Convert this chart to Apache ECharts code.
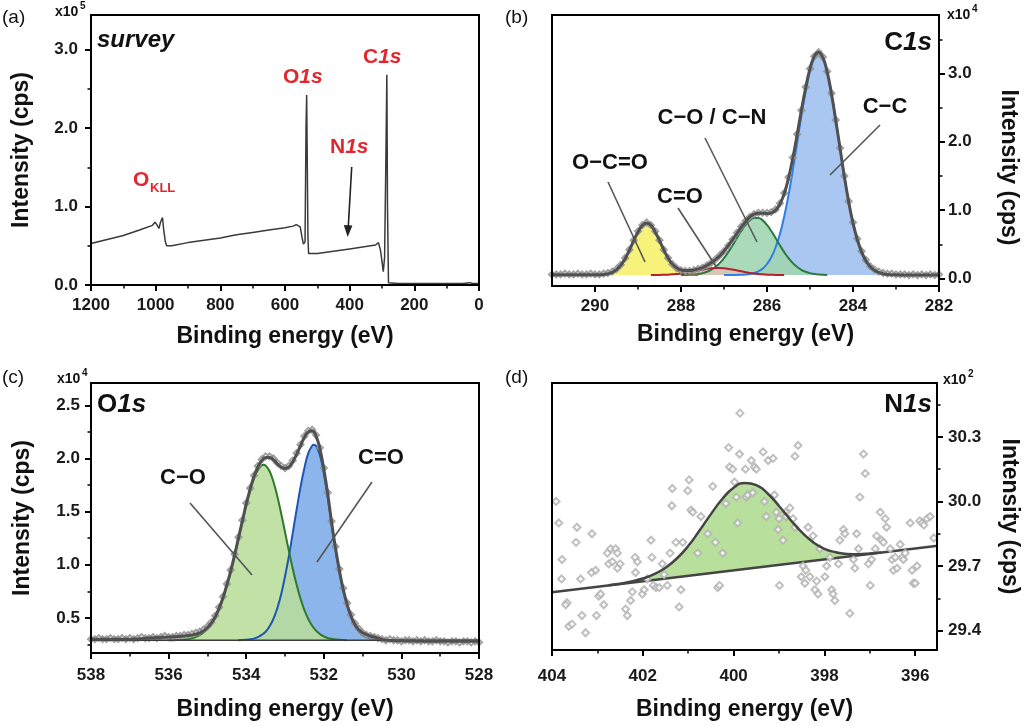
<!DOCTYPE html>
<html>
<head>
<meta charset="utf-8">
<script src="https://cdn.jsdelivr.net/npm/echarts@6/dist/echarts.min.js"></script>
<style>
  html, body { margin: 0; padding: 0; background: #fff; }
  #chart { width: 1024px; height: 726px; }
</style>
</head>
<body>
<div id="chart"></div>
<script>
// ---- (a) survey spectrum, intensity in 1e5 cps
var surveySpectrum = [
  [1200,0.53],[1150,0.58],[1100,0.63],[1050,0.70],[1010,0.76],[1002,0.80],[995,0.76],[990,0.72],
  [985,0.80],[979,0.86],[975,0.70],[970,0.55],[966,0.50],[950,0.50],[900,0.54],[850,0.57],
  [800,0.60],[750,0.64],[700,0.67],[650,0.70],[600,0.73],[575,0.75],[565,0.77],[559,0.79],
  [553,0.74],[547,0.60],[543,0.52],[538,0.55],[535,2.0],[533,2.42],[531,1.5],[529,0.6],
  [527,0.40],[500,0.40],[450,0.43],[400,0.46],[350,0.49],[320,0.51],[311,0.54],[305,0.45],
  [300,0.30],[296,0.17],[292,0.35],[288,1.6],[285,2.68],[283,1.0],[280,0.03],[250,0.02],
  [200,0.02],[150,0.02],[100,0.02],[50,0.02],[28,0.03],[20,0.02],[0,0.02]
];
var surveyEnergyTicks = [0, 200, 400, 600, 800, 1000, 1200];
var surveyEnergyMinor = [100, 300, 500, 700, 900, 1100];
var surveyIntensityTicks = [0, 1, 2, 3];
var surveyIntensityMinor = [0.5, 1.5, 2.5];

// ---- (b) C1s, intensity in 1e4 cps
var c1sRaw = [
  [282.0,0.06],[282.1,0.05],[282.2,0.06],[282.3,0.05],[282.4,0.06],[282.5,0.05],[282.6,0.06],[282.7,0.05],
  [282.8,0.06],[282.9,0.06],[283.0,0.06],[283.1,0.07],[283.2,0.07],[283.3,0.08],[283.4,0.10],[283.5,0.13],
  [283.6,0.18],[283.7,0.27],[283.8,0.40],[283.9,0.58],[284.0,0.82],[284.1,1.13],[284.2,1.50],[284.3,1.91],
  [284.4,2.32],[284.5,2.71],[284.6,3.03],[284.7,3.24],[284.8,3.31],[284.9,3.25],[285.0,3.07],[285.1,2.80],
  [285.2,2.46],[285.3,2.11],[285.4,1.77],[285.5,1.48],[285.6,1.25],[285.7,1.10],[285.8,1.01],[285.9,0.97],
  [286.0,0.96],[286.1,0.96],[286.2,0.96],[286.3,0.94],[286.4,0.90],[286.5,0.84],[286.6,0.76],[286.7,0.67],
  [286.8,0.57],[286.9,0.48],[287.0,0.40],[287.1,0.34],[287.2,0.28],[287.3,0.23],[287.4,0.19],[287.5,0.16],
  [287.6,0.14],[287.7,0.12],[287.8,0.11],[287.9,0.11],[288.0,0.12],[288.1,0.15],[288.2,0.21],[288.3,0.30],
  [288.4,0.42],[288.5,0.56],[288.6,0.69],[288.7,0.78],[288.8,0.82],[288.9,0.78],[289.0,0.69],[289.1,0.56],
  [289.2,0.42],[289.3,0.30],[289.4,0.20],[289.5,0.14],[289.6,0.10],[289.7,0.08],[289.8,0.07],[289.9,0.06],
  [290.0,0.06],[290.1,0.07],[290.2,0.06],[290.3,0.06],[290.4,0.07],[290.5,0.06],[290.6,0.06],[290.7,0.07],
  [290.8,0.06],[290.9,0.06],[291.0,0.06]
];
var c1sEnvelope = [
  [282.0,0.05],[282.5,0.05],[283.0,0.055],[283.2,0.06],[283.3,0.07],[283.4,0.09],[283.5,0.12],[283.6,0.175],
  [283.7,0.26],[283.8,0.39],[283.9,0.57],[284.0,0.81],[284.1,1.12],[284.2,1.49],[284.3,1.90],[284.4,2.31],
  [284.5,2.70],[284.6,3.02],[284.7,3.23],[284.8,3.31],[284.9,3.25],[285.0,3.07],[285.1,2.79],[285.2,2.46],
  [285.3,2.10],[285.4,1.76],[285.5,1.47],[285.6,1.24],[285.7,1.09],[285.8,1.00],[285.9,0.96],[286.0,0.95],
  [286.1,0.956],[286.2,0.955],[286.3,0.94],[286.4,0.90],[286.5,0.83],[286.6,0.75],[286.7,0.66],[286.8,0.57],
  [286.9,0.48],[287.0,0.40],[287.1,0.33],[287.2,0.275],[287.3,0.23],[287.4,0.19],[287.5,0.16],[287.6,0.14],
  [287.7,0.125],[287.8,0.115],[287.9,0.115],[288.0,0.125],[288.1,0.155],[288.2,0.21],[288.3,0.30],[288.4,0.42],
  [288.5,0.555],[288.6,0.68],[288.7,0.78],[288.8,0.81],[288.9,0.776],[289.0,0.68],[289.1,0.553],[289.2,0.415],
  [289.3,0.29],[289.4,0.195],[289.5,0.13],[289.6,0.09],[289.7,0.07],[289.8,0.058],[290.0,0.055],[290.5,0.055],
  [291.0,0.055]
];
var c1sCC = [
  [283.0,0.05],[283.2,0.06],[283.3,0.07],[283.4,0.09],[283.5,0.12],[283.6,0.175],[283.7,0.26],[283.8,0.39],
  [283.9,0.57],[284.0,0.81],[284.1,1.12],[284.2,1.49],[284.3,1.90],[284.4,2.31],[284.5,2.70],[284.6,3.02],
  [284.7,3.23],[284.8,3.30],[284.9,3.23],[285.0,3.04],[285.1,2.74],[285.2,2.38],[285.3,1.98],[285.4,1.585],
  [285.5,1.22],[285.6,0.907],[285.7,0.651],[285.8,0.455],[285.9,0.311],[286.0,0.212],[286.1,0.146],[286.2,0.105],
  [286.3,0.08],[286.4,0.066],[286.5,0.058],[286.6,0.054],[286.8,0.051],[287.0,0.05]
];
var c1sCOCN = [
  [284.6,0.05],[284.8,0.059],[284.9,0.066],[285.0,0.078],[285.1,0.098],[285.2,0.127],[285.3,0.169],[285.4,0.225],
  [285.5,0.298],[285.6,0.386],[285.7,0.486],[285.8,0.591],[285.9,0.694],[286.0,0.783],[286.1,0.85],[286.2,0.886],
  [286.3,0.886],[286.4,0.85],[286.5,0.783],[286.6,0.694],[286.7,0.591],[286.8,0.486],[286.9,0.386],[287.0,0.298],
  [287.1,0.225],[287.2,0.169],[287.3,0.127],[287.4,0.098],[287.5,0.078],[287.6,0.066],[287.8,0.055],[288.0,0.05]
];
var c1sCeqO = [
  [285.6,0.05],[285.8,0.052],[286.0,0.056],[286.2,0.065],[286.4,0.081],[286.6,0.105],[286.8,0.13],[287.0,0.15],
  [287.1,0.154],[287.2,0.154],[287.3,0.15],[287.5,0.13],[287.7,0.105],[287.9,0.081],[288.1,0.065],[288.3,0.056],
  [288.5,0.052],[288.7,0.05]
];
var c1sOCeqO = [
  [287.6,0.05],[287.8,0.058],[287.9,0.068],[288.0,0.09],[288.1,0.13],[288.2,0.195],[288.3,0.29],[288.4,0.415],
  [288.5,0.553],[288.6,0.682],[288.7,0.776],[288.8,0.81],[288.9,0.776],[289.0,0.682],[289.1,0.553],[289.2,0.415],
  [289.3,0.29],[289.4,0.195],[289.5,0.13],[289.6,0.09],[289.7,0.068],[289.8,0.058],[290.0,0.05]
];
var c1sBackground = 0.05;
var c1sEnergyTicks = [282, 284, 286, 288, 290];
var c1sEnergyMinor = [283, 285, 287, 289];
var c1sIntensityTicks = [0, 1, 2, 3];
var c1sIntensityMinor = [0.5, 1.5, 2.5, 3.5];

// ---- (c) O1s, intensity in 1e4 cps
var o1sRaw = [
  [528.0,0.27],[528.1,0.28],[528.2,0.27],[528.3,0.28],[528.4,0.28],[528.5,0.27],[528.6,0.28],[528.7,0.28],
  [528.8,0.27],[528.9,0.28],[529.0,0.28],[529.1,0.29],[529.2,0.28],[529.3,0.28],[529.4,0.29],[529.5,0.28],
  [529.6,0.29],[529.7,0.28],[529.8,0.29],[529.9,0.29],[530.0,0.28],[530.1,0.29],[530.2,0.29],[530.3,0.30],
  [530.4,0.29],[530.5,0.30],[530.6,0.31],[530.7,0.32],[530.8,0.33],[530.9,0.34],[531.0,0.36],[531.1,0.40],
  [531.2,0.45],[531.3,0.53],[531.4,0.64],[531.5,0.78],[531.6,0.96],[531.7,1.17],[531.8,1.41],[531.9,1.68],
  [532.0,1.91],[532.1,2.10],[532.2,2.22],[532.3,2.27],[532.4,2.26],[532.5,2.21],[532.6,2.13],[532.7,2.05],
  [532.8,1.98],[532.9,1.93],[533.0,1.91],[533.1,1.93],[533.2,1.96],[533.3,2.00],[533.4,2.02],[533.5,2.02],
  [533.6,1.99],[533.7,1.93],[533.8,1.84],[533.9,1.72],[534.0,1.58],[534.1,1.42],[534.2,1.26],[534.3,1.10],
  [534.4,0.95],[534.5,0.82],[534.6,0.70],[534.7,0.60],[534.8,0.52],[534.9,0.46],[535.0,0.42],[535.1,0.39],
  [535.2,0.37],[535.3,0.36],[535.4,0.35],[535.5,0.34],[535.6,0.34],[535.7,0.33],[535.8,0.33],[535.9,0.32],
  [536.0,0.32],[536.1,0.33],[536.2,0.32],[536.3,0.31],[536.4,0.32],[536.5,0.31],[536.6,0.31],[536.7,0.32],
  [536.8,0.31],[536.9,0.30],[537.0,0.31],[537.1,0.30],[537.2,0.31],[537.3,0.30],[537.4,0.30],[537.5,0.31],
  [537.6,0.30],[537.7,0.30],[537.8,0.31],[537.9,0.30],[538.0,0.30]
];
var o1sEnvelope = [
  [528.0,0.28],[529.0,0.28],[530.0,0.285],[530.4,0.29],[530.6,0.31],[530.8,0.33],[531.0,0.36],[531.1,0.39],
  [531.2,0.44],[531.3,0.52],[531.4,0.63],[531.5,0.77],[531.6,0.95],[531.7,1.16],[531.8,1.40],[531.9,1.67],
  [532.0,1.90],[532.1,2.09],[532.2,2.21],[532.3,2.26],[532.4,2.25],[532.5,2.20],[532.6,2.12],[532.7,2.04],
  [532.8,1.97],[532.9,1.92],[533.0,1.906],[533.1,1.92],[533.2,1.95],[533.3,1.99],[533.4,2.01],[533.5,2.01],
  [533.6,1.98],[533.7,1.92],[533.8,1.83],[533.9,1.71],[534.0,1.57],[534.1,1.41],[534.2,1.25],[534.3,1.09],
  [534.4,0.94],[534.5,0.81],[534.6,0.69],[534.7,0.59],[534.8,0.51],[534.9,0.45],[535.0,0.41],[535.1,0.38],
  [535.2,0.36],[535.4,0.34],[535.6,0.33],[536.0,0.32],[536.5,0.31],[537.0,0.30],[538.0,0.30]
];
var o1sCeqO = [
  [530.2,0.29],[530.4,0.29],[530.6,0.295],[530.8,0.31],[531.0,0.34],[531.1,0.38],[531.2,0.43],[531.3,0.51],
  [531.4,0.62],[531.5,0.76],[531.6,0.94],[531.7,1.15],[531.8,1.39],[531.9,1.64],[532.0,1.86],[532.1,2.03],
  [532.2,2.12],[532.25,2.13],[532.3,2.12],[532.4,2.05],[532.5,1.91],[532.6,1.73],[532.7,1.52],[532.8,1.30],
  [532.9,1.08],[533.0,0.89],[533.1,0.72],[533.2,0.59],[533.3,0.49],[533.4,0.42],[533.5,0.37],[533.6,0.34],
  [533.7,0.32],[533.8,0.305],[534.0,0.295],[534.2,0.29]
];
var o1sCO = [
  [531.4,0.29],[531.6,0.294],[531.8,0.303],[531.9,0.311],[532.0,0.326],[532.1,0.348],[532.2,0.38],[532.3,0.426],
  [532.4,0.49],[532.5,0.574],[532.6,0.681],[532.7,0.811],[532.8,0.963],[532.9,1.131],[533.0,1.308],[533.1,1.485],
  [533.2,1.647],[533.3,1.783],[533.4,1.882],[533.5,1.933],[533.55,1.94],[533.6,1.935],[533.7,1.892],[533.8,1.811],
  [533.9,1.697],[534.0,1.559],[534.1,1.404],[534.2,1.243],[534.3,1.084],[534.4,0.935],[534.5,0.80],[534.6,0.683],
  [534.7,0.585],[534.8,0.506],[534.9,0.444],[535.0,0.397],[535.1,0.363],[535.2,0.338],[535.3,0.321],[535.4,0.309],
  [535.6,0.297],[535.8,0.292],[536.0,0.29]
];
var o1sBackground = 0.29;
var o1sEnergyTicks = [528, 530, 532, 534, 536, 538];
var o1sEnergyMinor = [529, 531, 533, 535, 537];
var o1sIntensityTicks = [0.5, 1.0, 1.5, 2.0, 2.5];
var o1sIntensityMinor = [0.25, 0.75, 1.25, 1.75, 2.25];

// ---- (d) N1s, intensity in 1e2 cps
var n1sRaw = [
  [403.91,30.00],[403.85,29.90],[403.78,29.73],[403.79,29.64],[403.67,29.53],[403.70,29.52],[403.63,29.42],[403.56,29.43],
  [403.45,29.88],[403.47,29.81],[403.37,29.64],[403.34,29.47],[403.26,29.39],[403.12,29.85],[403.13,29.67],[403.04,29.68],
  [403.02,29.47],[402.97,29.56],[402.93,29.57],[402.86,29.52],[402.78,29.76],[402.75,29.71],[402.71,29.78],[402.67,29.72],
  [402.60,29.78],[402.56,29.76],[402.50,29.71],[402.56,29.69],[402.38,29.50],[402.34,29.47],[402.27,29.54],[402.23,29.58],
  [402.17,29.74],[402.12,29.72],[402.16,29.67],[402.01,29.57],[401.97,29.59],[401.90,29.64],[401.82,29.82],[401.80,29.74],
  [401.77,29.61],[401.71,29.60],[401.64,29.60],[401.57,29.71],[401.53,29.66],[401.46,29.61],[401.40,29.76],[401.36,29.98],
  [401.35,30.06],[401.27,29.81],[401.20,29.51],[401.16,29.59],[401.12,29.81],[401.01,30.05],[400.98,30.10],[400.94,29.96],
  [400.90,29.95],[400.79,29.76],[400.72,29.93],[400.57,29.85],[400.46,30.07],[400.40,29.81],[400.35,29.60],[400.31,29.61],
  [400.24,29.76],[400.17,29.99],[400.11,30.25],[400.09,30.16],[400.02,30.15],[399.98,30.09],[399.94,30.02],[399.91,29.90],
  [399.87,30.22],[399.86,30.41],[399.72,30.02],[399.74,30.15],[399.69,30.03],[399.61,30.19],[399.58,30.04],[399.54,30.16],
  [399.50,30.15],[399.35,30.23],[399.32,30.00],[399.28,29.93],[399.24,30.19],[399.13,30.20],[399.10,30.03],[399.06,29.95],
  [399.02,29.87],[399.00,29.92],[398.99,29.61],[398.91,29.82],[398.85,29.95],[398.84,29.93],[398.76,29.97],[398.69,29.92],
  [398.65,29.88],[398.65,30.21],[398.58,30.26],[398.51,29.65],[398.47,29.70],[398.43,29.62],[398.41,29.68],[398.36,29.88],
  [398.32,29.65],[398.25,29.84],[398.21,29.59],[398.17,29.63],[398.14,29.57],[398.10,29.78],[397.99,29.65],[397.95,29.70],
  [397.88,29.74],[397.84,29.59],[397.81,29.57],[397.77,29.54],[397.69,29.71],[397.66,29.82],[397.58,29.87],[397.55,29.85],
  [397.44,29.48],[397.36,29.73],[397.33,29.69],[397.29,29.85],[397.25,29.78],[397.22,30.02],[397.14,30.22],[397.10,30.13],
  [397.03,29.71],[396.99,29.61],[396.96,29.73],[396.88,29.78],[396.85,29.84],[396.77,29.95],[396.74,29.82],[396.70,29.81],
  [396.66,29.92],[396.63,29.88],[396.55,29.78],[396.51,29.73],[396.48,29.68],[396.44,29.74],[396.40,29.69],[396.33,29.80],
  [396.29,29.74],[396.26,29.73],[396.22,29.76],[396.11,29.90],[396.07,29.68],[396.04,29.62],[396.00,29.62],[395.96,29.70],
  [395.90,29.91],[395.85,29.90],[395.81,29.89],[395.74,29.92],[395.67,29.93],[395.59,29.83]
];
var n1sFit = [
  [402.75,29.611],[402.5,29.618],[402.25,29.628],[402.0,29.642],[401.75,29.662],[401.5,29.692],[401.25,29.735],[401.0,29.793],
  [400.75,29.865],[400.5,29.941],[400.25,30.011],[400.0,30.064],[399.75,30.086],[399.5,30.076],[399.25,30.037],[399.0,29.979],
  [398.75,29.915],[398.5,29.857],[398.25,29.811],[398.0,29.780],[397.75,29.764],[397.5,29.756],[397.25,29.755],[397.0,29.758],
  [396.75,29.763]
];
var n1sBackground = [[404.0,29.578],[395.5,29.794]];
var n1sEnergyTicks = [396, 398, 400, 402, 404];
var n1sEnergyMinor = [397, 399, 401, 403];
var n1sIntensityTicks = [29.4, 29.7, 30.0, 30.3];
var n1sIntensityMinor = [29.55, 29.85, 30.15, 30.45];

var FONT = "'Liberation Sans', Arial, sans-serif";
var RED = '#e3262d';

function fixed1(v) { return v.toFixed(1); }

function mainAxis(o) {
  return {
    type: 'value', gridIndex: o.grid, position: o.pos, min: o.min, max: o.max,
    inverse: !!o.inverse, z: 10,
    axisLine: { show: true, onZero: false, lineStyle: { color: '#000', width: 2 } },
    axisTick: { show: true, inside: false, length: 6, customValues: o.ticks,
                lineStyle: { color: '#000', width: 2 } },
    axisLabel: { show: true, margin: o.margin, customValues: o.ticks, formatter: o.fmt,
                 color: '#1a1a1a', fontSize: 17, fontWeight: 'bold', fontFamily: FONT },
    splitLine: { show: false },
    name: o.name, nameLocation: 'middle', nameGap: o.nameGap, nameRotate: o.nameRotate,
    nameTextStyle: { color: '#111', fontSize: 23, fontWeight: 'bold', fontFamily: FONT,
                     padding: o.namePad || 0 }
  };
}

function minorAxis(grid, pos, min, max, inverse, ticks) {
  return {
    type: 'value', gridIndex: grid, position: pos, min: min, max: max, inverse: inverse, z: 10,
    axisLine: { show: false, onZero: false },
    axisTick: { show: true, inside: false, length: 3.5, customValues: ticks,
                lineStyle: { color: '#000', width: 1.5 } },
    axisLabel: { show: false },
    splitLine: { show: false }
  };
}

function gridBox(left, top, width, height) {
  return { left: left, top: top, width: width, height: height, show: true,
           borderColor: '#000', borderWidth: 2, backgroundColor: 'transparent', z: 10,
           outerBoundsMode: 'none' };
}

function area(g, data, lineColor, fillColor, origin, opacity) {
  return {
    type: 'line', xAxisIndex: 2 * g, yAxisIndex: 2 * g, data: data, smooth: true,
    showSymbol: false, symbol: 'none', silent: true, z: 2,
    lineStyle: { color: lineColor, width: 2 },
    areaStyle: { color: fillColor, origin: origin, opacity: opacity == null ? 1 : opacity }
  };
}

function rawPoints(g, data, color, size) {
  return {
    type: 'scatter', xAxisIndex: 2 * g, yAxisIndex: 2 * g, data: data, silent: true, z: 4,
    symbol: 'emptyDiamond', symbolSize: size,
    itemStyle: { color: color, borderWidth: 1 }
  };
}

function curve(g, data, color, width, smooth) {
  return {
    type: 'line', xAxisIndex: 2 * g, yAxisIndex: 2 * g, data: data, smooth: smooth,
    showSymbol: false, symbol: 'none', silent: true, z: 5,
    lineStyle: { color: color, width: width }
  };
}

function txt(x, y, text, font, opts) {
  opts = opts || {};
  return {
    type: 'text', x: x, y: y, z: 100, silent: true,
    style: {
      text: text, font: font, fill: opts.fill || '#111',
      align: opts.align || 'left', verticalAlign: opts.va || 'middle',
      rich: opts.rich
    }
  };
}

function lead(x1, y1, x2, y2) {
  return { type: 'line', z: 100, silent: true, shape: { x1: x1, y1: y1, x2: x2, y2: y2 },
           style: { stroke: '#555', lineWidth: 1.6 } };
}

function label1s(x, y, first, size, color, align) {
  return txt(x, y, '{n|' + first + '}{i|1s}', null, {
    align: align, fill: color,
    rich: {
      n: { fontSize: size, fontWeight: 'bold', fontFamily: FONT, fill: color },
      i: { fontSize: size, fontWeight: 'bold', fontStyle: 'italic', fontFamily: FONT, fill: color }
    }
  });
}

function exponent(x, y, power) {
  return [
    txt(x, y, 'x10', 'bold 14px ' + FONT),
    txt(x + 25, y - 6, power, 'bold 10px ' + FONT)
  ];
}

var chart = echarts.init(document.getElementById('chart'));

var graphics = [
  txt(2, 18, '(a)', '19px ' + FONT),
  txt(505, 18, '(b)', '19px ' + FONT),
  txt(2, 378, '(c)', '19px ' + FONT),
  txt(505, 378, '(d)', '19px ' + FONT),
  txt(97, 40, 'survey', 'italic bold 24px ' + FONT),
  label1s(283, 77, 'O', 21, RED, 'left'),
  label1s(363, 57, 'C', 21, RED, 'left'),
  label1s(330, 147, 'N', 21, RED, 'left'),
  txt(133, 180, 'O', 'bold 21px ' + FONT, { fill: RED }),
  txt(150, 188, 'KLL', 'bold 13px ' + FONT, { fill: RED }),
  { type: 'line', z: 100, silent: true, shape: { x1: 351.7, y1: 167, x2: 348.2, y2: 228 },
    style: { stroke: '#222', lineWidth: 1.6 } },
  { type: 'polygon', z: 100, silent: true,
    shape: { points: [[343.8, 225], [352.4, 225.5], [347.7, 237]] }, style: { fill: '#222' } },
  label1s(932, 43, 'C', 26, '#111', 'right'),
  txt(885, 107, 'C\u2212C', 'bold 22px ' + FONT, { align: 'center' }),
  txt(712, 118, 'C\u2212O / C\u2212N', 'bold 22px ' + FONT, { align: 'center' }),
  txt(610, 163, 'O\u2212C=O', 'bold 22px ' + FONT, { align: 'center' }),
  txt(680, 197, 'C=O', 'bold 22px ' + FONT, { align: 'center' }),
  lead(880, 125, 830, 175),
  lead(705, 138, 757, 242),
  lead(608, 182, 645, 262),
  lead(678, 208, 717, 268),
  label1s(97, 405, 'O', 26, '#111', 'left'),
  txt(183, 478, 'C\u2212O', 'bold 22px ' + FONT, { align: 'center' }),
  txt(381, 458, 'C=O', 'bold 22px ' + FONT, { align: 'center' }),
  lead(190, 503, 252, 575),
  lead(372, 482, 317, 562),
  label1s(932, 405, 'N', 26, '#111', 'right')
].concat(exponent(55, 12, '5'), exponent(947, 15, '4'), exponent(57, 379, '4'), exponent(943, 380, '2'));

var option = {
  animation: false,
  backgroundColor: '#fff',
  grid: [
    gridBox(91, 15, 388, 270),
    gridBox(552, 15, 387, 271),
    gridBox(91, 383, 388, 270),
    gridBox(552, 383, 385, 267)
  ],
  xAxis: [
    mainAxis({ grid: 0, pos: 'bottom', min: 0, max: 1200, inverse: true, ticks: surveyEnergyTicks,
               fmt: String, margin: 12, name: 'Binding energy (eV)', nameGap: 40 }),
    minorAxis(0, 'bottom', 0, 1200, true, surveyEnergyMinor),
    mainAxis({ grid: 1, pos: 'bottom', min: 282, max: 291, inverse: true, ticks: c1sEnergyTicks,
               fmt: String, margin: 12, name: 'Binding energy (eV)', nameGap: 37 }),
    minorAxis(1, 'bottom', 282, 291, true, c1sEnergyMinor),
    mainAxis({ grid: 2, pos: 'bottom', min: 528, max: 538, inverse: true, ticks: o1sEnergyTicks,
               fmt: String, margin: 14, name: 'Binding energy (eV)', nameGap: 45 }),
    minorAxis(2, 'bottom', 528, 538, true, o1sEnergyMinor),
    mainAxis({ grid: 3, pos: 'bottom', min: 395.52, max: 404, inverse: true, ticks: n1sEnergyTicks,
               fmt: String, margin: 18, name: 'Binding energy (eV)', nameGap: 48 }),
    minorAxis(3, 'bottom', 395.52, 404, true, n1sEnergyMinor)
  ],
  yAxis: [
    mainAxis({ grid: 0, pos: 'left', min: 0, max: 3.44, ticks: surveyIntensityTicks,
               fmt: fixed1, margin: 13, name: 'Intensity (cps)', nameGap: 58 }),
    minorAxis(0, 'left', 0, 3.44, false, surveyIntensityMinor),
    mainAxis({ grid: 1, pos: 'right', min: -0.11, max: 3.855, ticks: c1sIntensityTicks,
               fmt: fixed1, margin: 9, name: 'Intensity (cps)', nameGap: 58, nameRotate: -90,
               namePad: [0, 0, 0, 34] }),
    minorAxis(1, 'right', -0.11, 3.855, false, c1sIntensityMinor),
    mainAxis({ grid: 2, pos: 'left', min: 0.17, max: 2.71, ticks: o1sIntensityTicks,
               fmt: fixed1, margin: 11, name: 'Intensity (cps)', nameGap: 57 }),
    minorAxis(2, 'left', 0.17, 2.71, false, o1sIntensityMinor),
    mainAxis({ grid: 3, pos: 'right', min: 29.31, max: 30.55, ticks: n1sIntensityTicks,
               fmt: fixed1, margin: 11, name: 'Intensity (cps)', nameGap: 61, nameRotate: -90 }),
    minorAxis(3, 'right', 29.31, 30.55, false, n1sIntensityMinor)
  ],
  series: [
    // (a)
    curve(0, surveySpectrum, '#3a3a3a', 1.5, false),
    // (b)
    area(1, c1sCC, '#2f7ee6', '#a9c7f1', c1sBackground),
    area(1, c1sCOCN, '#2a7a3e', '#9fd5b1', c1sBackground, 0.88),
    area(1, c1sOCeqO, '#77733a', '#f6f27a', c1sBackground),
    area(1, c1sCeqO, '#b3222b', '#dcc3b6', c1sBackground, 0.9),
    rawPoints(1, c1sRaw, '#8a8a8a', 6),
    curve(1, c1sEnvelope, '#505050', 3, true),
    // (c)
    area(2, o1sCeqO, '#1f56b3', '#8cb5eb', o1sBackground),
    area(2, o1sCO, '#2e7a2a', '#b8dd9b', o1sBackground, 0.88),
    curve(2, [[528, o1sBackground], [538, o1sBackground]], '#3a3a3a', 1.5, false),
    rawPoints(2, o1sRaw, '#8a8a8a', 6),
    curve(2, o1sEnvelope, '#505050', 3, true),
    // (d): fit area, then the background line with a white fill below it
    {
      type: 'line', xAxisIndex: 6, yAxisIndex: 6, data: n1sFit, smooth: true, symbol: 'none',
      silent: true, z: 1, lineStyle: { width: 0 },
      areaStyle: { color: '#b9df9c', origin: 'start', opacity: 1 }
    },
    {
      type: 'line', xAxisIndex: 6, yAxisIndex: 6, data: n1sBackground, symbol: 'none',
      silent: true, z: 2, lineStyle: { color: '#444', width: 2.5 },
      areaStyle: { color: '#fff', origin: 'start', opacity: 1 }
    },
    rawPoints(3, n1sRaw, '#b0b0b0', 7),
    curve(3, n1sFit, '#444', 2.5, true)
  ],
  graphic: graphics
};

chart.setOption(option);
</script>
</body>
</html>
